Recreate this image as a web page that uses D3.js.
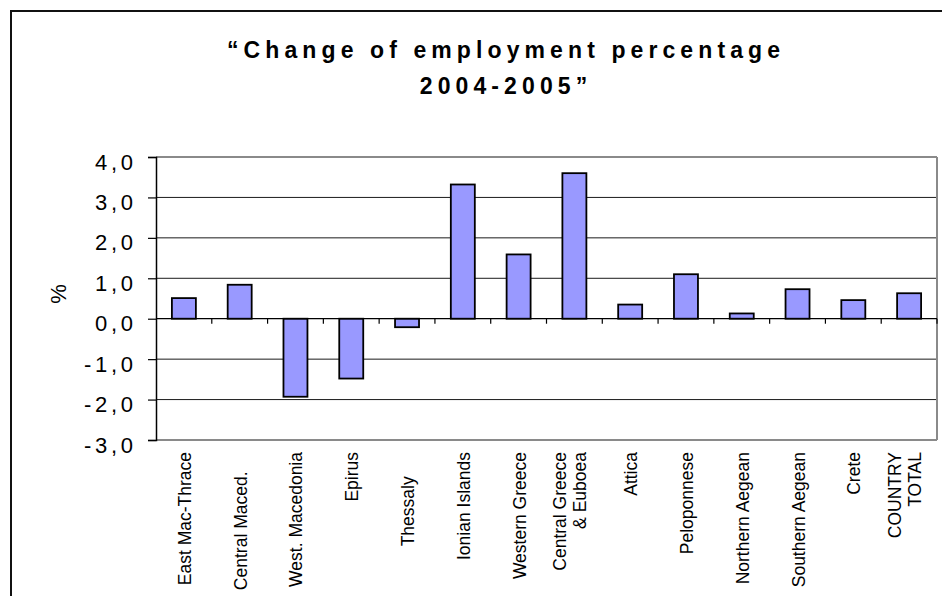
<!DOCTYPE html>
<html>
<head>
<meta charset="utf-8">
<script src="https://cdn.jsdelivr.net/npm/d3@7"></script>
<style>
  html, body { margin: 0; padding: 0; background: #fff; }
  svg { display: block; font-family: "Liberation Sans", Arial, sans-serif; }
  .xlab { white-space: pre; }
</style>
</head>
<body>
<div class="container"></div>
<script>
const WIDTH = 942;
const HEIGHT = 596;
const FONT = '"Liberation Sans", Arial, sans-serif';

// plot area
const LEFT = 156;
const RIGHT = 937;
const TOP = 157;
const BOTTOM = 440;

// data
const titleLines = ["\u201CChange of employment percentage", "2004-2005\u201D"];
const regions = [
    "East Mac-Thrace", "Central Maced.    ", "West. Macedonia", "Epirus",
    "Thessaly     ", "Ionian Islands", "Western Greece", "Central Greece\n& Euboea",
    "Attica", "Peloponnese", "Northern Aegean", "Southern Aegean",
    "Crete", "COUNTRY\nTOTAL"
];
const values = [0.51, 0.84, -1.93, -1.48, -0.21, 3.32, 1.59, 3.60, 0.35, 1.10, 0.13, 0.73, 0.46, 0.63];
const yTicks = [-3, -2, -1, 0, 1, 2, 3, 4];
const yLabel = "%";

var locale = d3.formatLocale({decimal: ",", thousands: ".", grouping: [3], currency: ["", ""], minus: "-"});
var fmt = locale.format(".1f");

var xScale = d3.scaleBand()
    .domain(regions)
    .range([LEFT, RIGHT])
    .padding(0);

var yScale = d3.scaleLinear()
    .domain([-3, 4])
    .range([BOTTOM, TOP]);

var translate = function(x, y){
    return "translate(" + x + "," + y + ")";
};

var svg = d3.select('.container').append('svg')
    .attr('width', WIDTH)
    .attr('height', HEIGHT)
    .attr('font-family', FONT);

svg.append('rect')
    .attr('width', WIDTH).attr('height', HEIGHT)
    .attr('fill', '#fff');

// outer chart frame (runs off the right and bottom edge)
svg.append('rect')
    .attr('x', 11).attr('y', 11)
    .attr('width', 1200).attr('height', 1200)
    .attr('fill', 'none')
    .attr('stroke', '#111')
    .attr('stroke-width', 2);

// title
var TITLE_SPACING = 5.1;
svg.append('g').selectAll('text')
    .data(titleLines)
    .enter()
    .append('text')
    .attr('x', 503.5 + TITLE_SPACING / 2)
    .attr('y', function(d, i){ return 58 + i * 36; })
    .attr('text-anchor', 'middle')
    .attr('font-family', FONT)
    .attr('font-size', 23)
    .attr('font-weight', 'bold')
    .attr('letter-spacing', TITLE_SPACING)
    .attr('fill', '#000')
    .text(function(d){ return d; });

// gridlines
svg.append('g').selectAll('line')
    .data(yTicks.filter(function(t){ return t !== 0; }))
    .enter()
    .append('line')
    .attr('x1', LEFT).attr('x2', RIGHT)
    .attr('y1', function(d){ return yScale(d); })
    .attr('y2', function(d){ return yScale(d); })
    .attr('stroke', function(d){ return (d === 4 || d === -3) ? '#8a8a8a' : '#1a1a1a'; })
    .attr('stroke-width', function(d){ return (d === 4 || d === -3) ? 2 : 1; });

// right border of the plot area
svg.append('line')
    .attr('x1', RIGHT).attr('x2', RIGHT)
    .attr('y1', TOP).attr('y2', BOTTOM)
    .attr('stroke', '#8a8a8a')
    .attr('stroke-width', 2);

// bars
var barWidth = xScale.bandwidth() * 0.43;
svg.append('g').selectAll('rect')
    .data(values)
    .enter()
    .append('rect')
    .attr('x', function(d, i){ return xScale(regions[i]) + (xScale.bandwidth() - barWidth) / 2; })
    .attr('y', function(d){ return yScale(Math.max(0, d)); })
    .attr('width', barWidth)
    .attr('height', function(d){ return Math.abs(yScale(d) - yScale(0)); })
    .attr('fill', '#9999FF')
    .attr('stroke', '#000')
    .attr('stroke-width', 1.8);

// x axis on the zero line, ticks between categories
var boundaries = regions.map(function(r){ return xScale(r); }).concat([RIGHT]);
var xAxisG = svg.append('g');
xAxisG.append('line')
    .attr('x1', LEFT).attr('x2', RIGHT)
    .attr('y1', yScale(0)).attr('y2', yScale(0))
    .attr('stroke', '#000').attr('stroke-width', 1.2);
xAxisG.selectAll('.xtick')
    .data(boundaries.slice(1))
    .enter()
    .append('line')
    .attr('x1', function(d){ return d; }).attr('x2', function(d){ return d; })
    .attr('y1', yScale(0)).attr('y2', yScale(0) + 5)
    .attr('stroke', '#000').attr('stroke-width', 1.2);

// y axis
var Y_SPACING = 3.7;
var yAxis = d3.axisLeft(yScale)
    .tickValues(yTicks)
    .tickSize(8)
    .tickPadding(23 - 8 - Y_SPACING)
    .tickFormat(fmt);

var yAxisG = svg.append('g')
    .attr('transform', translate(LEFT, 0))
    .call(yAxis)
    .attr('font-family', FONT)
    .attr('font-size', 22);
yAxisG.select('.domain').attr('stroke', '#000').attr('stroke-width', 1.5);
yAxisG.selectAll('.tick line').attr('stroke', '#000').attr('stroke-width', 1.2);
yAxisG.selectAll('.tick text')
    .attr('letter-spacing', Y_SPACING)
    .attr('fill', '#000')
    .attr('dy', '12px');

// y axis title
svg.append('text')
    .attr('transform', translate(66, 294) + ' rotate(-90)')
    .attr('text-anchor', 'middle')
    .attr('font-size', 22)
    .attr('fill', '#000')
    .text(yLabel);

// category labels, rotated
var labelG = svg.append('g').selectAll('g')
    .data(regions)
    .enter()
    .append('g')
    .attr('transform', function(d){
        var lines = d.split('\n');
        var cx = xScale(d) + xScale.bandwidth() / 2;
        var shift = lines.length > 1 ? -8 : 7;
        return translate(cx + shift, 452) + ' rotate(-90)';
    });

labelG.append('text')
    .classed('xlab', true)
    .attr('text-anchor', 'end')
    .attr('font-size', 17.5)
    .attr('fill', '#000')
    .selectAll('tspan')
    .data(function(d){ return d.split('\n'); })
    .enter()
    .append('tspan')
    .attr('x', 0)
    .attr('y', function(d, i){ return i * 20; })
    .text(function(d){ return d; });
</script>
</body>
</html>
